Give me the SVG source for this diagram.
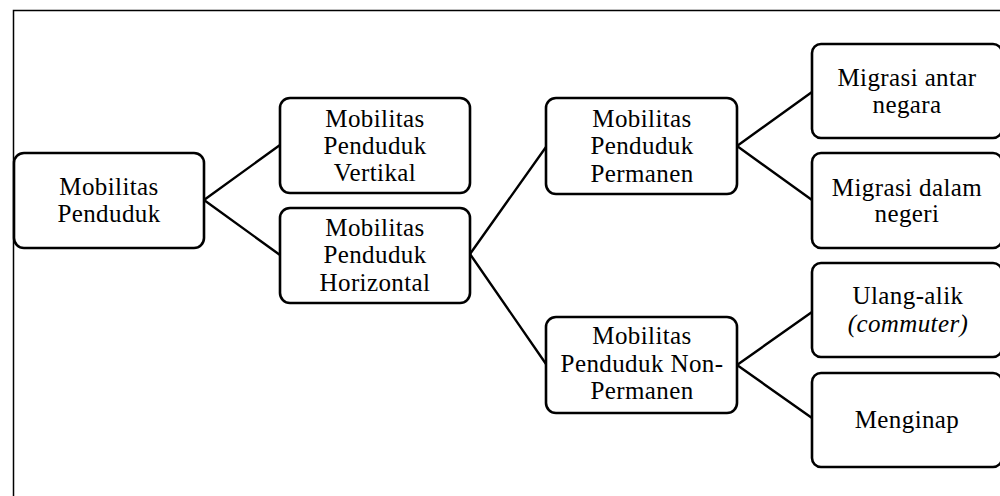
<svg xmlns="http://www.w3.org/2000/svg" width="1000" height="496" viewBox="0 0 1000 496">
  <style>
    .box { fill: #ffffff; stroke: #000000; stroke-width: 2.6; }
    .frame { fill: none; stroke: #000000; stroke-width: 1.5; }
    .link { fill: none; stroke: #000000; stroke-width: 2.4; stroke-linecap: round; }
    text { font-family: "Liberation Serif", "Times New Roman", serif; font-size: 25px; letter-spacing: 0.4px; fill: #000000; text-anchor: middle; }
    .it { font-style: italic; }
  </style>

  <rect x="0" y="0" width="1000" height="496" fill="#ffffff"/>
  <!-- outer frame, runs off the right and bottom edges -->
  <rect class="frame" x="13.5" y="10.5" width="1000" height="500"/>

  <g id="connectors">
    <line class="link" x1="204" y1="200" x2="280" y2="145"/>
    <line class="link" x1="204" y1="200" x2="280" y2="255"/>
    <line class="link" x1="470" y1="254" x2="546" y2="147"/>
    <line class="link" x1="470" y1="254" x2="546" y2="364"/>
    <line class="link" x1="737" y1="146" x2="812" y2="92"/>
    <line class="link" x1="737" y1="146" x2="812" y2="200"/>
    <line class="link" x1="737" y1="365" x2="812" y2="312"/>
    <line class="link" x1="737" y1="365" x2="812" y2="418"/>
  </g>

  <g id="mobilitas-penduduk">
    <rect class="box" x="14" y="153" width="190" height="95" rx="10"/>
    <text x="109" y="195">Mobilitas</text>
    <text x="109" y="222">Penduduk</text>
  </g>

  <g id="vertikal">
    <rect class="box" x="280" y="98" width="190" height="95" rx="10"/>
    <text x="375" y="127">Mobilitas</text>
    <text x="375" y="154">Penduduk</text>
    <text x="375" y="181">Vertikal</text>
  </g>

  <g id="horizontal">
    <rect class="box" x="280" y="208" width="190" height="95" rx="10"/>
    <text x="375" y="236">Mobilitas</text>
    <text x="375" y="263">Penduduk</text>
    <text x="375" y="291">Horizontal</text>
  </g>

  <g id="permanen">
    <rect class="box" x="546" y="98" width="191" height="96" rx="10"/>
    <text x="642" y="127">Mobilitas</text>
    <text x="642" y="154">Penduduk</text>
    <text x="642" y="182">Permanen</text>
  </g>

  <g id="non-permanen">
    <rect class="box" x="546" y="317" width="191" height="96" rx="10"/>
    <text x="642" y="344">Mobilitas</text>
    <text x="642" y="372">Penduduk Non-</text>
    <text x="642" y="399">Permanen</text>
  </g>

  <g id="migrasi-antar-negara">
    <rect class="box" x="812" y="44" width="190" height="94" rx="9"/>
    <text x="907" y="86">Migrasi antar</text>
    <text x="907" y="113">negara</text>
  </g>

  <g id="migrasi-dalam-negeri">
    <rect class="box" x="812" y="153" width="190" height="95" rx="9"/>
    <text x="907" y="196">Migrasi dalam</text>
    <text x="907" y="222">negeri</text>
  </g>

  <g id="ulang-alik">
    <rect class="box" x="812" y="263" width="190" height="94" rx="9"/>
    <text x="908" y="304">Ulang-alik</text>
    <text x="908" y="332" class="it">(commuter)</text>
  </g>

  <g id="menginap">
    <rect class="box" x="812" y="373" width="190" height="94" rx="9"/>
    <text x="907" y="428">Menginap</text>
  </g>
</svg>
